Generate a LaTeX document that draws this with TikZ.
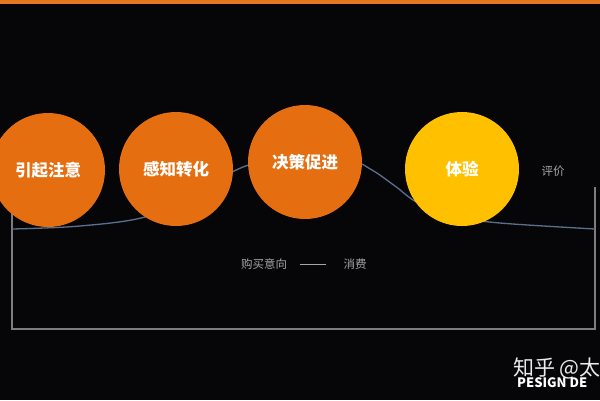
\documentclass[tikz,border=0pt]{standalone}
\usepackage{fontspec}
\usepackage{xcolor}
\usepackage{tikz}
\newfontfamily\cjk{Noto Sans CJK SC}

\definecolor{bgblack}{RGB}{6,6,9}
\definecolor{stageorange}{RGB}{229,110,16}
\definecolor{stageyellow}{RGB}{255,192,0}
\definecolor{barorange}{RGB}{228,120,30}
\definecolor{curveblue}{RGB}{90,112,140}
\definecolor{framegray}{RGB}{125,125,128}
\definecolor{notegray}{RGB}{165,165,168}

\tikzset{
    stage/.style={circle, fill=stageorange, minimum size=114pt, inner sep=0pt,
        text=white, font=\cjk\bfseries\fontsize{16.5}{16.5}\selectfont},
    note/.style={text=notegray, font=\cjk\fontsize{11.5}{11.5}\selectfont, inner sep=0pt}
}

\begin{document}
\begin{tikzpicture}[x=1pt, y=-1pt]
        \useasboundingbox (0, 0) rectangle (600, 400);
        \clip (0, 0) rectangle (600, 400);
        \fill[bgblack] (0, 0) rectangle (600, 400);
        \fill[barorange] (0, 0) rectangle (600, 3.5);

        \coordinate (frametl) at (12, 200);
        \coordinate (framebr) at (595, 329);
        \coordinate (frametr) at (595, 187);
        \draw[framegray, line width=1.1pt] (frametl) |- (framebr) -- (frametr);

        \draw[curveblue, line width=1.3pt] plot[smooth, tension=0.6] coordinates
            {(12, 229) (80, 226) (145, 217) (190, 196) (232, 172) (260, 162) (305, 155)
             (345, 157) (372, 170) (395, 186) (420, 204) (460, 217) (500, 223) (595, 229)};

        \node[stage] (attention) at (48, 170) {引起注意};
        \node[stage] (perception) at (176, 169) {感知转化};
        \node[stage] (decision) at (305, 162) {决策促进};
        \node[stage, fill=stageyellow] (experience) at (462, 169) {体验};

        \node[note] (review) at (553, 171) {评价};
        \node[note] (intent) at (264, 264) {购买意向};
        \node[note] (consume) at (355, 264) {消费};
        \draw[notegray, line width=0.6pt] (300, 264) -- (326, 264);

        \node[text=white!92!black, font=\cjk\fontsize{21}{21}\selectfont, anchor=west, inner sep=0pt]
            (markcn) at (513, 368) {知乎 @太};
        \node[text=white, font=\cjk\bfseries\fontsize{13}{13}\selectfont, anchor=west, inner sep=0pt]
            (marken) at (517, 383) {PESIGN DE};
    \end{tikzpicture}
\end{document}
